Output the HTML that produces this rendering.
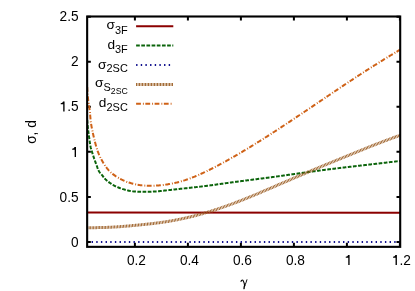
<!DOCTYPE html>
<html><head><meta charset="utf-8"><title>plot</title>
<style>
html,body{margin:0;padding:0;background:#fff;}
body{width:415px;height:291px;overflow:hidden;}
svg{display:block;will-change:transform;}
text{font-family:"Liberation Sans",sans-serif;font-size:13.7px;fill:#000;}
</style></head><body>
<svg width="415" height="291" viewBox="0 0 415 291">
<rect width="415" height="291" fill="#fff"/>
<defs><clipPath id="c"><rect x="87.15" y="16.5" width="313.04999999999995" height="230.35"/></clipPath></defs>
<g fill="none" stroke="#000" stroke-width="2">
<path d="M87.15,241.95h3.7M400.2,241.95h-3.7"/>
<path d="M87.15,196.90h3.7M400.2,196.90h-3.7"/>
<path d="M87.15,151.85h3.7M400.2,151.85h-3.7"/>
<path d="M87.15,106.80h3.7M400.2,106.80h-3.7"/>
<path d="M87.15,61.75h3.7M400.2,61.75h-3.7"/>
<path d="M87.15,16.70h3.7M400.2,16.70h-3.7"/>
<path d="M134.90,246.85v-4.1M134.90,16.5v4.1"/>
<path d="M187.90,246.85v-4.1M187.90,16.5v4.1"/>
<path d="M240.90,246.85v-4.1M240.90,16.5v4.1"/>
<path d="M293.90,246.85v-4.1M293.90,16.5v4.1"/>
<path d="M346.90,246.85v-4.1M346.90,16.5v4.1"/>
<path d="M399.90,246.85v-4.1M399.90,16.5v4.1"/>
</g>
<g fill="none" stroke-width="2" clip-path="url(#c)">
<path d="M87.15,212.45 L400.2,212.8" stroke="#8b0000"/>
<path d="M87.20,120.00 L87.25,120.73 L87.31,121.45 L87.37,122.18 L87.42,122.90 L87.48,123.63 L87.54,124.35 L87.61,125.08 L87.67,125.80 L87.74,126.52 L87.82,127.25 L87.90,127.97 L87.98,128.69 L88.07,129.41 L88.16,130.13 L88.25,130.86 L88.35,131.58 L88.45,132.30 L88.55,133.02 L88.65,133.74 L88.75,134.46 L88.85,135.18 L88.95,135.90 L89.04,136.62 L89.14,137.34 L89.23,138.06 L89.32,138.78 L89.41,139.50 L89.51,140.22 L89.60,140.95 L89.70,141.67 L89.81,142.39 L89.91,143.11 L90.02,143.82 L90.14,144.54 L90.26,145.26 L90.40,145.98 L90.54,146.69 L90.69,147.40 L90.86,148.11 L91.04,148.81 L91.23,149.51 L91.44,150.21 L91.67,150.90 L91.90,151.59 L92.13,152.28 L92.36,152.97 L92.58,153.67 L92.80,154.36 L93.02,155.05 L93.24,155.75 L93.46,156.44 L93.68,157.13 L93.91,157.82 L94.13,158.51 L94.37,159.20 L94.61,159.88 L94.86,160.56 L95.11,161.24 L95.36,161.92 L95.61,162.60 L95.87,163.28 L96.12,163.96 L96.38,164.65 L96.63,165.34 L96.87,166.03 L97.12,166.72 L97.36,167.42 L97.60,168.11 L97.86,168.80 L98.13,169.48 L98.42,170.15 L98.74,170.80 L99.10,171.43 L99.48,172.04 L99.91,172.61 L100.38,173.17 L100.86,173.72 L101.35,174.26 L101.83,174.81 L102.28,175.38 L102.72,175.96 L103.15,176.55 L103.58,177.13 L104.03,177.71 L104.49,178.27 L104.97,178.81 L105.48,179.33 L106.00,179.84 L106.54,180.33 L107.09,180.80 L107.66,181.27 L108.23,181.72 L108.82,182.16 L109.41,182.59 L110.01,183.01 L110.62,183.42 L111.23,183.82 L111.84,184.21 L112.46,184.60 L113.09,184.97 L113.72,185.32 L114.36,185.67 L115.00,186.00 L115.66,186.32 L116.32,186.63 L116.98,186.92 L117.65,187.20 L118.33,187.47 L119.01,187.73 L119.69,187.99 L120.38,188.23 L121.06,188.47 L121.75,188.70 L122.44,188.93 L123.14,189.14 L123.83,189.36 L124.53,189.56 L125.23,189.77 L125.93,189.96 L126.63,190.15 L127.34,190.34 L128.04,190.51 L128.75,190.68 L129.46,190.83 L130.18,190.96 L130.89,191.08 L131.61,191.19 L132.33,191.29 L133.05,191.37 L133.78,191.44 L134.50,191.51 L135.23,191.56 L135.95,191.61 L136.68,191.65 L137.41,191.68 L138.14,191.71 L138.87,191.73 L139.60,191.75 L140.33,191.77 L141.06,191.78 L141.78,191.80 L142.51,191.81 L143.24,191.82 L143.97,191.83 L144.69,191.83 L145.42,191.84 L146.15,191.83 L146.87,191.83 L147.60,191.82 L148.33,191.81 L149.05,191.79 L149.78,191.77 L150.51,191.74 L151.23,191.71 L151.96,191.67 L152.68,191.64 L153.41,191.59 L154.13,191.54 L154.86,191.49 L155.58,191.44 L156.31,191.38 L157.03,191.32 L157.76,191.26 L158.48,191.19 L159.21,191.13 L159.93,191.06 L160.66,190.99 L161.38,190.91 L162.11,190.84 L162.83,190.76 L163.55,190.69 L164.28,190.61 L165.00,190.53 L165.72,190.45 L166.45,190.37 L167.17,190.29 L167.89,190.21 L168.62,190.13 L169.34,190.05 L170.06,189.97 L170.78,189.89 L171.51,189.81 L172.23,189.73 L172.95,189.65 L173.68,189.57 L174.40,189.49 L175.12,189.41 L175.84,189.33 L176.57,189.25 L177.29,189.17 L178.01,189.09 L178.73,189.01 L179.46,188.93 L180.18,188.85 L180.90,188.77 L181.62,188.69 L182.35,188.61 L183.07,188.53 L183.79,188.46 L184.52,188.38 L185.24,188.30 L185.96,188.23 L186.69,188.15 L187.41,188.07 L188.13,187.99 L188.85,187.92 L189.58,187.84 L190.30,187.76 L191.02,187.69 L191.75,187.61 L192.47,187.53 L193.19,187.45 L193.92,187.37 L194.64,187.29 L195.36,187.21 L196.08,187.13 L196.81,187.05 L197.53,186.97 L198.25,186.88 L198.97,186.80 L199.70,186.72 L200.42,186.63 L201.14,186.54 L201.86,186.46 L202.58,186.37 L203.31,186.28 L204.03,186.19 L204.75,186.10 L205.47,186.00 L206.19,185.91 L206.91,185.82 L207.63,185.72 L208.35,185.63 L209.08,185.53 L209.80,185.44 L210.52,185.34 L211.24,185.24 L211.96,185.14 L212.68,185.05 L213.40,184.95 L214.12,184.85 L214.84,184.75 L215.56,184.65 L216.28,184.55 L217.00,184.45 L217.72,184.35 L218.44,184.25 L219.16,184.14 L219.88,184.04 L220.60,183.94 L221.32,183.84 L222.04,183.74 L222.76,183.64 L223.48,183.54 L224.20,183.44 L224.92,183.33 L225.64,183.23 L226.36,183.13 L227.08,183.03 L227.80,182.93 L228.52,182.83 L229.24,182.73 L229.96,182.63 L230.68,182.53 L231.41,182.43 L232.13,182.33 L232.85,182.23 L233.57,182.14 L234.29,182.04 L235.01,181.94 L235.73,181.85 L236.45,181.75 L237.17,181.65 L237.89,181.56 L238.61,181.46 L239.33,181.37 L240.05,181.27 L240.78,181.18 L241.50,181.08 L242.22,180.99 L242.94,180.90 L243.66,180.80 L244.38,180.71 L245.10,180.62 L245.82,180.52 L246.54,180.43 L247.27,180.34 L247.99,180.25 L248.71,180.15 L249.43,180.06 L250.15,179.97 L250.87,179.88 L251.59,179.78 L252.32,179.69 L253.04,179.60 L253.76,179.51 L254.48,179.42 L255.20,179.32 L255.92,179.23 L256.64,179.14 L257.36,179.05 L258.09,178.95 L258.81,178.86 L259.53,178.77 L260.25,178.68 L260.97,178.58 L261.69,178.49 L262.41,178.40 L263.13,178.30 L263.86,178.21 L264.58,178.12 L265.30,178.02 L266.02,177.93 L266.74,177.83 L267.46,177.74 L268.18,177.64 L268.90,177.55 L269.62,177.45 L270.34,177.35 L271.06,177.26 L271.79,177.16 L272.51,177.06 L273.23,176.97 L273.95,176.87 L274.67,176.77 L275.39,176.67 L276.11,176.57 L276.83,176.47 L277.55,176.37 L278.27,176.28 L278.99,176.18 L279.71,176.08 L280.43,175.98 L281.15,175.88 L281.87,175.78 L282.59,175.67 L283.31,175.57 L284.03,175.47 L284.75,175.37 L285.47,175.27 L286.19,175.17 L286.91,175.07 L287.63,174.97 L288.35,174.86 L289.07,174.76 L289.79,174.66 L290.51,174.56 L291.23,174.46 L291.95,174.36 L292.67,174.25 L293.39,174.15 L294.11,174.05 L294.83,173.95 L295.55,173.85 L296.27,173.74 L296.99,173.64 L297.71,173.54 L298.43,173.44 L299.15,173.34 L299.87,173.24 L300.59,173.13 L301.31,173.03 L302.03,172.93 L302.75,172.83 L303.47,172.73 L304.19,172.63 L304.91,172.53 L305.63,172.43 L306.36,172.33 L307.08,172.23 L307.80,172.13 L308.52,172.03 L309.24,171.93 L309.96,171.83 L310.68,171.73 L311.40,171.63 L312.12,171.53 L312.84,171.43 L313.56,171.33 L314.28,171.24 L315.00,171.14 L315.72,171.04 L316.44,170.94 L317.16,170.85 L317.88,170.75 L318.60,170.66 L319.32,170.56 L320.05,170.47 L320.77,170.37 L321.49,170.28 L322.21,170.18 L322.93,170.09 L323.65,170.00 L324.37,169.90 L325.09,169.81 L325.81,169.72 L326.54,169.63 L327.26,169.54 L327.98,169.45 L328.70,169.36 L329.42,169.27 L330.14,169.18 L330.87,169.09 L331.59,169.00 L332.31,168.91 L333.03,168.82 L333.75,168.73 L334.47,168.64 L335.20,168.56 L335.92,168.47 L336.64,168.38 L337.36,168.29 L338.08,168.21 L338.81,168.12 L339.53,168.03 L340.25,167.95 L340.97,167.86 L341.69,167.78 L342.42,167.69 L343.14,167.61 L343.86,167.52 L344.58,167.44 L345.31,167.35 L346.03,167.27 L346.75,167.18 L347.47,167.10 L348.19,167.01 L348.92,166.93 L349.64,166.85 L350.36,166.76 L351.08,166.68 L351.81,166.59 L352.53,166.51 L353.25,166.43 L353.97,166.34 L354.70,166.26 L355.42,166.18 L356.14,166.09 L356.86,166.01 L357.59,165.93 L358.31,165.84 L359.03,165.76 L359.75,165.68 L360.48,165.59 L361.20,165.51 L361.92,165.42 L362.64,165.34 L363.37,165.26 L364.09,165.17 L364.81,165.09 L365.53,165.01 L366.25,164.92 L366.98,164.84 L367.70,164.75 L368.42,164.67 L369.14,164.59 L369.87,164.50 L370.59,164.42 L371.31,164.33 L372.03,164.25 L372.76,164.17 L373.48,164.08 L374.20,164.00 L374.92,163.91 L375.64,163.83 L376.37,163.74 L377.09,163.66 L377.81,163.57 L378.53,163.49 L379.26,163.40 L379.98,163.32 L380.70,163.24 L381.42,163.15 L382.15,163.07 L382.87,162.98 L383.59,162.90 L384.31,162.81 L385.03,162.73 L385.76,162.64 L386.48,162.56 L387.20,162.47 L387.92,162.39 L388.64,162.30 L389.37,162.22 L390.09,162.13 L390.81,162.05 L391.53,161.96 L392.26,161.88 L392.98,161.79 L393.70,161.71 L394.42,161.62 L395.14,161.54 L395.87,161.45 L396.59,161.37 L397.31,161.28 L398.03,161.20 L398.76,161.11 L399.48,161.03 L400.20,160.94" stroke="#0b640b" stroke-dasharray="3.7 1.47"/>
<path d="M91.6,242.05 H400.2" stroke="#10108e" stroke-dasharray="1.4 3.256"/>
<path d="M87.20,227.71 L87.86,227.71 L88.52,227.70 L89.18,227.70 L89.84,227.69 L90.50,227.69 L91.16,227.68 L91.82,227.68 L92.48,227.67 L93.14,227.66 L93.80,227.66 L94.46,227.65 L95.12,227.64 L95.78,227.64 L96.44,227.63 L97.10,227.62 L97.76,227.61 L98.42,227.60 L99.08,227.59 L99.74,227.58 L100.40,227.56 L101.06,227.55 L101.72,227.54 L102.38,227.52 L103.04,227.50 L103.70,227.49 L104.36,227.47 L105.02,227.45 L105.68,227.43 L106.34,227.41 L106.99,227.38 L107.65,227.36 L108.31,227.33 L108.97,227.31 L109.63,227.28 L110.29,227.25 L110.95,227.22 L111.61,227.18 L112.27,227.15 L112.93,227.11 L113.58,227.08 L114.24,227.04 L114.90,227.00 L115.56,226.96 L116.22,226.91 L116.88,226.87 L117.53,226.83 L118.19,226.78 L118.85,226.74 L119.51,226.69 L120.17,226.64 L120.83,226.59 L121.48,226.54 L122.14,226.49 L122.80,226.44 L123.46,226.38 L124.12,226.33 L124.77,226.28 L125.43,226.22 L126.09,226.16 L126.75,226.11 L127.40,226.05 L128.06,225.99 L128.72,225.93 L129.38,225.88 L130.03,225.82 L130.69,225.76 L131.35,225.70 L132.01,225.64 L132.66,225.57 L133.32,225.51 L133.98,225.45 L134.63,225.39 L135.29,225.33 L135.95,225.26 L136.61,225.20 L137.26,225.14 L137.92,225.08 L138.58,225.01 L139.23,224.95 L139.89,224.89 L140.55,224.82 L141.21,224.76 L141.86,224.69 L142.52,224.63 L143.18,224.56 L143.83,224.50 L144.49,224.43 L145.15,224.36 L145.80,224.29 L146.46,224.22 L147.11,224.15 L147.77,224.08 L148.43,224.01 L149.08,223.94 L149.74,223.87 L150.39,223.80 L151.05,223.72 L151.71,223.65 L152.36,223.57 L153.02,223.50 L153.67,223.42 L154.33,223.34 L154.98,223.26 L155.64,223.18 L156.29,223.10 L156.95,223.01 L157.60,222.93 L158.25,222.84 L158.91,222.76 L159.56,222.67 L160.22,222.58 L160.87,222.49 L161.52,222.40 L162.18,222.30 L162.83,222.21 L163.48,222.11 L164.14,222.02 L164.79,221.92 L165.44,221.82 L166.09,221.72 L166.74,221.61 L167.40,221.51 L168.05,221.40 L168.70,221.30 L169.35,221.19 L170.00,221.08 L170.65,220.97 L171.30,220.86 L171.95,220.74 L172.60,220.63 L173.25,220.51 L173.90,220.39 L174.55,220.27 L175.20,220.15 L175.85,220.03 L176.50,219.91 L177.14,219.78 L177.79,219.65 L178.44,219.53 L179.09,219.40 L179.73,219.26 L180.38,219.13 L181.03,219.00 L181.67,218.86 L182.32,218.73 L182.96,218.59 L183.61,218.45 L184.25,218.30 L184.90,218.16 L185.54,218.02 L186.18,217.87 L186.83,217.72 L187.47,217.58 L188.11,217.43 L188.76,217.27 L189.40,217.12 L190.04,216.97 L190.68,216.81 L191.32,216.65 L191.96,216.50 L192.60,216.34 L193.24,216.18 L193.88,216.01 L194.52,215.85 L195.16,215.68 L195.80,215.52 L196.44,215.35 L197.08,215.18 L197.71,215.01 L198.35,214.84 L198.99,214.67 L199.63,214.49 L200.26,214.32 L200.90,214.14 L201.53,213.96 L202.17,213.78 L202.80,213.60 L203.44,213.42 L204.07,213.24 L204.71,213.06 L205.34,212.87 L205.97,212.68 L206.61,212.50 L207.24,212.31 L207.87,212.12 L208.50,211.93 L209.13,211.73 L209.77,211.54 L210.40,211.35 L211.03,211.15 L211.66,210.95 L212.29,210.75 L212.91,210.56 L213.54,210.35 L214.17,210.15 L214.80,209.95 L215.43,209.75 L216.06,209.54 L216.68,209.34 L217.31,209.13 L217.94,208.92 L218.56,208.71 L219.19,208.50 L219.81,208.29 L220.44,208.08 L221.06,207.87 L221.69,207.65 L222.31,207.44 L222.93,207.22 L223.56,207.00 L224.18,206.78 L224.80,206.56 L225.43,206.34 L226.05,206.12 L226.67,205.90 L227.29,205.68 L227.91,205.45 L228.53,205.23 L229.15,205.00 L229.77,204.78 L230.39,204.55 L231.01,204.32 L231.63,204.09 L232.25,203.86 L232.86,203.63 L233.48,203.39 L234.10,203.16 L234.72,202.93 L235.33,202.69 L235.95,202.46 L236.56,202.22 L237.18,201.98 L237.80,201.74 L238.41,201.51 L239.02,201.27 L239.64,201.02 L240.25,200.78 L240.87,200.54 L241.48,200.30 L242.09,200.06 L242.71,199.81 L243.32,199.57 L243.93,199.32 L244.55,199.08 L245.16,198.83 L245.77,198.58 L246.38,198.33 L246.99,198.09 L247.60,197.84 L248.21,197.59 L248.82,197.34 L249.44,197.09 L250.05,196.84 L250.66,196.58 L251.27,196.33 L251.88,196.08 L252.48,195.83 L253.09,195.57 L253.70,195.32 L254.31,195.07 L254.92,194.81 L255.53,194.56 L256.14,194.30 L256.75,194.05 L257.36,193.79 L257.96,193.53 L258.57,193.28 L259.18,193.02 L259.79,192.76 L260.39,192.50 L261.00,192.25 L261.61,191.99 L262.22,191.73 L262.82,191.47 L263.43,191.21 L264.04,190.95 L264.65,190.69 L265.25,190.43 L265.86,190.17 L266.47,189.91 L267.07,189.66 L267.68,189.40 L268.29,189.14 L268.89,188.87 L269.50,188.61 L270.11,188.35 L270.71,188.09 L271.32,187.83 L271.93,187.57 L272.53,187.31 L273.14,187.05 L273.74,186.79 L274.35,186.53 L274.96,186.27 L275.56,186.01 L276.17,185.75 L276.78,185.49 L277.38,185.23 L277.99,184.97 L278.60,184.71 L279.20,184.45 L279.81,184.19 L280.41,183.93 L281.02,183.66 L281.63,183.40 L282.23,183.14 L282.84,182.88 L283.45,182.62 L284.05,182.36 L284.66,182.10 L285.26,181.84 L285.87,181.58 L286.48,181.32 L287.08,181.06 L287.69,180.80 L288.30,180.54 L288.90,180.28 L289.51,180.02 L290.11,179.76 L290.72,179.50 L291.33,179.24 L291.93,178.98 L292.54,178.72 L293.15,178.46 L293.75,178.20 L294.36,177.94 L294.97,177.68 L295.57,177.42 L296.18,177.16 L296.79,176.90 L297.39,176.64 L298.00,176.38 L298.61,176.12 L299.21,175.86 L299.82,175.60 L300.43,175.34 L301.03,175.08 L301.64,174.82 L302.25,174.57 L302.86,174.31 L303.46,174.05 L304.07,173.79 L304.68,173.53 L305.28,173.27 L305.89,173.02 L306.50,172.76 L307.11,172.50 L307.71,172.24 L308.32,171.99 L308.93,171.73 L309.54,171.47 L310.14,171.21 L310.75,170.96 L311.36,170.70 L311.97,170.44 L312.58,170.19 L313.18,169.93 L313.79,169.68 L314.40,169.42 L315.01,169.16 L315.62,168.91 L316.22,168.65 L316.83,168.40 L317.44,168.14 L318.05,167.89 L318.66,167.63 L319.27,167.38 L319.88,167.12 L320.49,166.87 L321.09,166.62 L321.70,166.36 L322.31,166.11 L322.92,165.86 L323.53,165.60 L324.14,165.35 L324.75,165.10 L325.36,164.85 L325.97,164.59 L326.58,164.34 L327.19,164.09 L327.80,163.84 L328.41,163.59 L329.02,163.34 L329.63,163.08 L330.24,162.83 L330.85,162.58 L331.46,162.33 L332.07,162.08 L332.68,161.83 L333.29,161.58 L333.90,161.33 L334.51,161.08 L335.12,160.83 L335.73,160.58 L336.34,160.33 L336.96,160.08 L337.57,159.83 L338.18,159.58 L338.79,159.33 L339.40,159.08 L340.01,158.83 L340.62,158.58 L341.23,158.33 L341.84,158.08 L342.45,157.83 L343.06,157.58 L343.67,157.33 L344.29,157.08 L344.90,156.83 L345.51,156.58 L346.12,156.33 L346.73,156.09 L347.34,155.84 L347.95,155.59 L348.56,155.34 L349.17,155.09 L349.78,154.84 L350.40,154.59 L351.01,154.34 L351.62,154.09 L352.23,153.84 L352.84,153.59 L353.45,153.34 L354.06,153.09 L354.67,152.84 L355.28,152.59 L355.89,152.34 L356.50,152.09 L357.12,151.84 L357.73,151.59 L358.34,151.35 L358.95,151.10 L359.56,150.85 L360.17,150.60 L360.78,150.35 L361.39,150.10 L362.01,149.86 L362.62,149.61 L363.23,149.36 L363.84,149.11 L364.45,148.87 L365.07,148.62 L365.68,148.37 L366.29,148.13 L366.90,147.88 L367.51,147.64 L368.13,147.39 L368.74,147.15 L369.35,146.90 L369.97,146.66 L370.58,146.42 L371.19,146.17 L371.81,145.93 L372.42,145.69 L373.04,145.45 L373.65,145.21 L374.26,144.97 L374.88,144.73 L375.49,144.49 L376.11,144.25 L376.72,144.01 L377.34,143.77 L377.95,143.54 L378.57,143.30 L379.19,143.06 L379.80,142.83 L380.42,142.59 L381.04,142.36 L381.65,142.12 L382.27,141.89 L382.89,141.65 L383.50,141.42 L384.12,141.18 L384.74,140.95 L385.36,140.72 L385.97,140.49 L386.59,140.25 L387.21,140.02 L387.83,139.79 L388.44,139.56 L389.06,139.33 L389.68,139.10 L390.30,138.87 L390.92,138.64 L391.54,138.41 L392.15,138.18 L392.77,137.95 L393.39,137.72 L394.01,137.49 L394.63,137.26 L395.25,137.03 L395.87,136.80 L396.49,136.57 L397.11,136.34 L397.72,136.11 L398.34,135.89 L398.96,135.66 L399.58,135.43 L400.20,135.20" stroke="none" stroke-width="3.0"/><path d="M87.20,227.71 L87.86,227.71 L88.52,227.70 L89.18,227.70 L89.84,227.69 L90.50,227.69 L91.16,227.68 L91.82,227.68 L92.48,227.67 L93.14,227.66 L93.80,227.66 L94.46,227.65 L95.12,227.64 L95.78,227.64 L96.44,227.63 L97.10,227.62 L97.76,227.61 L98.42,227.60 L99.08,227.59 L99.74,227.58 L100.40,227.56 L101.06,227.55 L101.72,227.54 L102.38,227.52 L103.04,227.50 L103.70,227.49 L104.36,227.47 L105.02,227.45 L105.68,227.43 L106.34,227.41 L106.99,227.38 L107.65,227.36 L108.31,227.33 L108.97,227.31 L109.63,227.28 L110.29,227.25 L110.95,227.22 L111.61,227.18 L112.27,227.15 L112.93,227.11 L113.58,227.08 L114.24,227.04 L114.90,227.00 L115.56,226.96 L116.22,226.91 L116.88,226.87 L117.53,226.83 L118.19,226.78 L118.85,226.74 L119.51,226.69 L120.17,226.64 L120.83,226.59 L121.48,226.54 L122.14,226.49 L122.80,226.44 L123.46,226.38 L124.12,226.33 L124.77,226.28 L125.43,226.22 L126.09,226.16 L126.75,226.11 L127.40,226.05 L128.06,225.99 L128.72,225.93 L129.38,225.88 L130.03,225.82 L130.69,225.76 L131.35,225.70 L132.01,225.64 L132.66,225.57 L133.32,225.51 L133.98,225.45 L134.63,225.39 L135.29,225.33 L135.95,225.26 L136.61,225.20 L137.26,225.14 L137.92,225.08 L138.58,225.01 L139.23,224.95 L139.89,224.89 L140.55,224.82 L141.21,224.76 L141.86,224.69 L142.52,224.63 L143.18,224.56 L143.83,224.50 L144.49,224.43 L145.15,224.36 L145.80,224.29 L146.46,224.22 L147.11,224.15 L147.77,224.08 L148.43,224.01 L149.08,223.94 L149.74,223.87 L150.39,223.80 L151.05,223.72 L151.71,223.65 L152.36,223.57 L153.02,223.50 L153.67,223.42 L154.33,223.34 L154.98,223.26 L155.64,223.18 L156.29,223.10 L156.95,223.01 L157.60,222.93 L158.25,222.84 L158.91,222.76 L159.56,222.67 L160.22,222.58 L160.87,222.49 L161.52,222.40 L162.18,222.30 L162.83,222.21 L163.48,222.11 L164.14,222.02 L164.79,221.92 L165.44,221.82 L166.09,221.72 L166.74,221.61 L167.40,221.51 L168.05,221.40 L168.70,221.30 L169.35,221.19 L170.00,221.08 L170.65,220.97 L171.30,220.86 L171.95,220.74 L172.60,220.63 L173.25,220.51 L173.90,220.39 L174.55,220.27 L175.20,220.15 L175.85,220.03 L176.50,219.91 L177.14,219.78 L177.79,219.65 L178.44,219.53 L179.09,219.40 L179.73,219.26 L180.38,219.13 L181.03,219.00 L181.67,218.86 L182.32,218.73 L182.96,218.59 L183.61,218.45 L184.25,218.30 L184.90,218.16 L185.54,218.02 L186.18,217.87 L186.83,217.72 L187.47,217.58 L188.11,217.43 L188.76,217.27 L189.40,217.12 L190.04,216.97 L190.68,216.81 L191.32,216.65 L191.96,216.50 L192.60,216.34 L193.24,216.18 L193.88,216.01 L194.52,215.85 L195.16,215.68 L195.80,215.52 L196.44,215.35 L197.08,215.18 L197.71,215.01 L198.35,214.84 L198.99,214.67 L199.63,214.49 L200.26,214.32 L200.90,214.14 L201.53,213.96 L202.17,213.78 L202.80,213.60 L203.44,213.42 L204.07,213.24 L204.71,213.06 L205.34,212.87 L205.97,212.68 L206.61,212.50 L207.24,212.31 L207.87,212.12 L208.50,211.93 L209.13,211.73 L209.77,211.54 L210.40,211.35 L211.03,211.15 L211.66,210.95 L212.29,210.75 L212.91,210.56 L213.54,210.35 L214.17,210.15 L214.80,209.95 L215.43,209.75 L216.06,209.54 L216.68,209.34 L217.31,209.13 L217.94,208.92 L218.56,208.71 L219.19,208.50 L219.81,208.29 L220.44,208.08 L221.06,207.87 L221.69,207.65 L222.31,207.44 L222.93,207.22 L223.56,207.00 L224.18,206.78 L224.80,206.56 L225.43,206.34 L226.05,206.12 L226.67,205.90 L227.29,205.68 L227.91,205.45 L228.53,205.23 L229.15,205.00 L229.77,204.78 L230.39,204.55 L231.01,204.32 L231.63,204.09 L232.25,203.86 L232.86,203.63 L233.48,203.39 L234.10,203.16 L234.72,202.93 L235.33,202.69 L235.95,202.46 L236.56,202.22 L237.18,201.98 L237.80,201.74 L238.41,201.51 L239.02,201.27 L239.64,201.02 L240.25,200.78 L240.87,200.54 L241.48,200.30 L242.09,200.06 L242.71,199.81 L243.32,199.57 L243.93,199.32 L244.55,199.08 L245.16,198.83 L245.77,198.58 L246.38,198.33 L246.99,198.09 L247.60,197.84 L248.21,197.59 L248.82,197.34 L249.44,197.09 L250.05,196.84 L250.66,196.58 L251.27,196.33 L251.88,196.08 L252.48,195.83 L253.09,195.57 L253.70,195.32 L254.31,195.07 L254.92,194.81 L255.53,194.56 L256.14,194.30 L256.75,194.05 L257.36,193.79 L257.96,193.53 L258.57,193.28 L259.18,193.02 L259.79,192.76 L260.39,192.50 L261.00,192.25 L261.61,191.99 L262.22,191.73 L262.82,191.47 L263.43,191.21 L264.04,190.95 L264.65,190.69 L265.25,190.43 L265.86,190.17 L266.47,189.91 L267.07,189.66 L267.68,189.40 L268.29,189.14 L268.89,188.87 L269.50,188.61 L270.11,188.35 L270.71,188.09 L271.32,187.83 L271.93,187.57 L272.53,187.31 L273.14,187.05 L273.74,186.79 L274.35,186.53 L274.96,186.27 L275.56,186.01 L276.17,185.75 L276.78,185.49 L277.38,185.23 L277.99,184.97 L278.60,184.71 L279.20,184.45 L279.81,184.19 L280.41,183.93 L281.02,183.66 L281.63,183.40 L282.23,183.14 L282.84,182.88 L283.45,182.62 L284.05,182.36 L284.66,182.10 L285.26,181.84 L285.87,181.58 L286.48,181.32 L287.08,181.06 L287.69,180.80 L288.30,180.54 L288.90,180.28 L289.51,180.02 L290.11,179.76 L290.72,179.50 L291.33,179.24 L291.93,178.98 L292.54,178.72 L293.15,178.46 L293.75,178.20 L294.36,177.94 L294.97,177.68 L295.57,177.42 L296.18,177.16 L296.79,176.90 L297.39,176.64 L298.00,176.38 L298.61,176.12 L299.21,175.86 L299.82,175.60 L300.43,175.34 L301.03,175.08 L301.64,174.82 L302.25,174.57 L302.86,174.31 L303.46,174.05 L304.07,173.79 L304.68,173.53 L305.28,173.27 L305.89,173.02 L306.50,172.76 L307.11,172.50 L307.71,172.24 L308.32,171.99 L308.93,171.73 L309.54,171.47 L310.14,171.21 L310.75,170.96 L311.36,170.70 L311.97,170.44 L312.58,170.19 L313.18,169.93 L313.79,169.68 L314.40,169.42 L315.01,169.16 L315.62,168.91 L316.22,168.65 L316.83,168.40 L317.44,168.14 L318.05,167.89 L318.66,167.63 L319.27,167.38 L319.88,167.12 L320.49,166.87 L321.09,166.62 L321.70,166.36 L322.31,166.11 L322.92,165.86 L323.53,165.60 L324.14,165.35 L324.75,165.10 L325.36,164.85 L325.97,164.59 L326.58,164.34 L327.19,164.09 L327.80,163.84 L328.41,163.59 L329.02,163.34 L329.63,163.08 L330.24,162.83 L330.85,162.58 L331.46,162.33 L332.07,162.08 L332.68,161.83 L333.29,161.58 L333.90,161.33 L334.51,161.08 L335.12,160.83 L335.73,160.58 L336.34,160.33 L336.96,160.08 L337.57,159.83 L338.18,159.58 L338.79,159.33 L339.40,159.08 L340.01,158.83 L340.62,158.58 L341.23,158.33 L341.84,158.08 L342.45,157.83 L343.06,157.58 L343.67,157.33 L344.29,157.08 L344.90,156.83 L345.51,156.58 L346.12,156.33 L346.73,156.09 L347.34,155.84 L347.95,155.59 L348.56,155.34 L349.17,155.09 L349.78,154.84 L350.40,154.59 L351.01,154.34 L351.62,154.09 L352.23,153.84 L352.84,153.59 L353.45,153.34 L354.06,153.09 L354.67,152.84 L355.28,152.59 L355.89,152.34 L356.50,152.09 L357.12,151.84 L357.73,151.59 L358.34,151.35 L358.95,151.10 L359.56,150.85 L360.17,150.60 L360.78,150.35 L361.39,150.10 L362.01,149.86 L362.62,149.61 L363.23,149.36 L363.84,149.11 L364.45,148.87 L365.07,148.62 L365.68,148.37 L366.29,148.13 L366.90,147.88 L367.51,147.64 L368.13,147.39 L368.74,147.15 L369.35,146.90 L369.97,146.66 L370.58,146.42 L371.19,146.17 L371.81,145.93 L372.42,145.69 L373.04,145.45 L373.65,145.21 L374.26,144.97 L374.88,144.73 L375.49,144.49 L376.11,144.25 L376.72,144.01 L377.34,143.77 L377.95,143.54 L378.57,143.30 L379.19,143.06 L379.80,142.83 L380.42,142.59 L381.04,142.36 L381.65,142.12 L382.27,141.89 L382.89,141.65 L383.50,141.42 L384.12,141.18 L384.74,140.95 L385.36,140.72 L385.97,140.49 L386.59,140.25 L387.21,140.02 L387.83,139.79 L388.44,139.56 L389.06,139.33 L389.68,139.10 L390.30,138.87 L390.92,138.64 L391.54,138.41 L392.15,138.18 L392.77,137.95 L393.39,137.72 L394.01,137.49 L394.63,137.26 L395.25,137.03 L395.87,136.80 L396.49,136.57 L397.11,136.34 L397.72,136.11 L398.34,135.89 L398.96,135.66 L399.58,135.43 L400.20,135.20" stroke="#9a5c22" stroke-width="3.0" stroke-dasharray="0.9 0.6"/>
<path d="M87.20,87.00 L87.24,87.84 L87.28,88.68 L87.32,89.52 L87.37,90.36 L87.42,91.21 L87.47,92.05 L87.52,92.89 L87.58,93.73 L87.64,94.57 L87.71,95.41 L87.79,96.24 L87.87,97.08 L87.96,97.92 L88.05,98.76 L88.15,99.59 L88.25,100.43 L88.36,101.27 L88.47,102.10 L88.59,102.93 L88.71,103.77 L88.84,104.60 L88.97,105.43 L89.10,106.27 L89.23,107.10 L89.36,107.93 L89.48,108.76 L89.60,109.60 L89.71,110.43 L89.82,111.27 L89.91,112.10 L90.00,112.94 L90.07,113.78 L90.14,114.62 L90.21,115.46 L90.28,116.30 L90.34,117.14 L90.41,117.98 L90.48,118.82 L90.56,119.66 L90.65,120.49 L90.75,121.33 L90.86,122.16 L90.98,123.00 L91.10,123.83 L91.23,124.66 L91.37,125.49 L91.52,126.32 L91.67,127.15 L91.83,127.98 L91.99,128.81 L92.15,129.63 L92.32,130.46 L92.50,131.29 L92.67,132.11 L92.85,132.93 L93.03,133.76 L93.21,134.58 L93.40,135.40 L93.58,136.22 L93.77,137.04 L93.96,137.86 L94.16,138.68 L94.36,139.50 L94.56,140.32 L94.76,141.13 L94.97,141.95 L95.18,142.76 L95.40,143.58 L95.62,144.39 L95.85,145.21 L96.08,146.02 L96.31,146.83 L96.55,147.64 L96.80,148.44 L97.05,149.25 L97.31,150.05 L97.58,150.85 L97.86,151.64 L98.15,152.44 L98.45,153.22 L98.76,154.00 L99.09,154.78 L99.42,155.55 L99.77,156.32 L100.13,157.08 L100.51,157.83 L100.89,158.58 L101.28,159.32 L101.69,160.06 L102.10,160.80 L102.52,161.53 L102.95,162.26 L103.39,162.98 L103.84,163.70 L104.29,164.42 L104.75,165.13 L105.23,165.83 L105.71,166.52 L106.20,167.20 L106.71,167.88 L107.23,168.54 L107.77,169.19 L108.32,169.83 L108.88,170.45 L109.46,171.06 L110.06,171.65 L110.67,172.23 L111.30,172.79 L111.94,173.34 L112.59,173.87 L113.26,174.39 L113.94,174.90 L114.62,175.39 L115.32,175.88 L116.02,176.35 L116.73,176.80 L117.44,177.25 L118.17,177.69 L118.89,178.11 L119.63,178.52 L120.37,178.92 L121.12,179.31 L121.87,179.69 L122.63,180.05 L123.39,180.40 L124.16,180.75 L124.94,181.07 L125.72,181.39 L126.51,181.70 L127.30,181.99 L128.09,182.27 L128.89,182.54 L129.69,182.80 L130.50,183.05 L131.31,183.29 L132.12,183.51 L132.94,183.73 L133.76,183.93 L134.58,184.13 L135.40,184.31 L136.23,184.48 L137.06,184.64 L137.89,184.79 L138.72,184.93 L139.56,185.06 L140.40,185.17 L141.23,185.28 L142.07,185.38 L142.91,185.47 L143.75,185.54 L144.59,185.61 L145.44,185.67 L146.28,185.71 L147.12,185.75 L147.96,185.78 L148.81,185.80 L149.65,185.81 L150.49,185.81 L151.33,185.80 L152.18,185.79 L153.02,185.76 L153.86,185.73 L154.70,185.69 L155.54,185.65 L156.39,185.60 L157.23,185.54 L158.07,185.47 L158.91,185.40 L159.75,185.32 L160.59,185.24 L161.43,185.15 L162.27,185.06 L163.10,184.96 L163.94,184.86 L164.78,184.75 L165.61,184.63 L166.45,184.51 L167.28,184.39 L168.12,184.25 L168.95,184.11 L169.78,183.97 L170.61,183.82 L171.44,183.67 L172.27,183.50 L173.09,183.34 L173.92,183.16 L174.74,182.98 L175.56,182.80 L176.39,182.60 L177.20,182.41 L178.02,182.20 L178.84,181.99 L179.65,181.77 L180.46,181.55 L181.27,181.32 L182.08,181.09 L182.89,180.84 L183.69,180.60 L184.50,180.34 L185.30,180.08 L186.10,179.82 L186.89,179.54 L187.69,179.27 L188.48,178.99 L189.27,178.70 L190.06,178.41 L190.85,178.11 L191.64,177.81 L192.43,177.50 L193.21,177.19 L193.99,176.88 L194.77,176.56 L195.55,176.23 L196.33,175.91 L197.11,175.58 L197.88,175.24 L198.66,174.91 L199.43,174.56 L200.20,174.22 L200.97,173.87 L201.74,173.52 L202.50,173.17 L203.27,172.82 L204.03,172.46 L204.80,172.10 L205.56,171.73 L206.32,171.37 L207.08,171.00 L207.84,170.63 L208.59,170.26 L209.35,169.89 L210.10,169.52 L210.86,169.14 L211.61,168.76 L212.36,168.38 L213.11,168.00 L213.86,167.62 L214.61,167.23 L215.36,166.84 L216.11,166.45 L216.85,166.06 L217.60,165.67 L218.34,165.28 L219.09,164.88 L219.83,164.48 L220.57,164.08 L221.31,163.68 L222.05,163.28 L222.79,162.88 L223.53,162.48 L224.27,162.07 L225.00,161.66 L225.74,161.26 L226.48,160.85 L227.21,160.44 L227.95,160.03 L228.68,159.61 L229.41,159.20 L230.15,158.78 L230.88,158.37 L231.61,157.95 L232.34,157.53 L233.07,157.12 L233.80,156.70 L234.53,156.28 L235.26,155.85 L235.99,155.43 L236.72,155.01 L237.44,154.59 L238.17,154.16 L238.90,153.73 L239.62,153.31 L240.35,152.88 L241.07,152.45 L241.80,152.02 L242.52,151.59 L243.25,151.16 L243.97,150.73 L244.69,150.30 L245.41,149.86 L246.14,149.43 L246.86,149.00 L247.58,148.56 L248.30,148.12 L249.02,147.69 L249.74,147.25 L250.46,146.81 L251.18,146.37 L251.89,145.93 L252.61,145.49 L253.33,145.05 L254.05,144.61 L254.76,144.16 L255.48,143.72 L256.20,143.28 L256.91,142.83 L257.63,142.39 L258.34,141.94 L259.05,141.49 L259.77,141.05 L260.48,140.60 L261.19,140.15 L261.91,139.70 L262.62,139.25 L263.33,138.80 L264.04,138.35 L264.75,137.90 L265.47,137.45 L266.18,136.99 L266.89,136.54 L267.60,136.09 L268.31,135.63 L269.02,135.18 L269.72,134.72 L270.43,134.27 L271.14,133.81 L271.85,133.36 L272.56,132.90 L273.27,132.44 L273.97,131.98 L274.68,131.52 L275.39,131.07 L276.09,130.61 L276.80,130.15 L277.50,129.69 L278.21,129.23 L278.91,128.77 L279.62,128.30 L280.32,127.84 L281.03,127.38 L281.73,126.92 L282.44,126.46 L283.14,125.99 L283.84,125.53 L284.55,125.07 L285.25,124.60 L285.95,124.14 L286.66,123.67 L287.36,123.21 L288.06,122.74 L288.76,122.28 L289.46,121.81 L290.17,121.35 L290.87,120.88 L291.57,120.41 L292.27,119.95 L292.97,119.48 L293.67,119.01 L294.37,118.55 L295.07,118.08 L295.77,117.61 L296.47,117.14 L297.17,116.67 L297.87,116.21 L298.57,115.74 L299.27,115.27 L299.97,114.80 L300.67,114.33 L301.37,113.86 L302.07,113.39 L302.77,112.92 L303.47,112.45 L304.16,111.98 L304.86,111.51 L305.56,111.04 L306.26,110.57 L306.96,110.10 L307.66,109.63 L308.36,109.16 L309.05,108.69 L309.75,108.22 L310.45,107.75 L311.15,107.27 L311.85,106.80 L312.54,106.33 L313.24,105.86 L313.94,105.39 L314.64,104.92 L315.33,104.45 L316.03,103.98 L316.73,103.50 L317.43,103.03 L318.13,102.56 L318.82,102.09 L319.52,101.62 L320.22,101.15 L320.92,100.68 L321.62,100.20 L322.31,99.73 L323.01,99.26 L323.71,98.79 L324.41,98.32 L325.10,97.85 L325.80,97.38 L326.50,96.91 L327.20,96.43 L327.90,95.96 L328.60,95.49 L329.29,95.02 L329.99,94.55 L330.69,94.08 L331.39,93.61 L332.09,93.14 L332.79,92.67 L333.49,92.20 L334.19,91.73 L334.88,91.26 L335.58,90.79 L336.28,90.32 L336.98,89.85 L337.68,89.38 L338.38,88.92 L339.08,88.45 L339.78,87.98 L340.48,87.51 L341.18,87.04 L341.88,86.57 L342.58,86.11 L343.28,85.64 L343.98,85.17 L344.69,84.71 L345.39,84.24 L346.09,83.77 L346.79,83.31 L347.49,82.84 L348.19,82.38 L348.90,81.91 L349.60,81.45 L350.30,80.98 L351.00,80.52 L351.71,80.05 L352.41,79.59 L353.11,79.13 L353.82,78.66 L354.52,78.20 L355.23,77.74 L355.93,77.28 L356.64,76.82 L357.34,76.36 L358.05,75.90 L358.75,75.44 L359.46,74.98 L360.16,74.52 L360.87,74.06 L361.58,73.60 L362.28,73.14 L362.99,72.69 L363.70,72.23 L364.40,71.77 L365.11,71.32 L365.82,70.86 L366.53,70.41 L367.24,69.95 L367.95,69.50 L368.66,69.04 L369.37,68.59 L370.08,68.14 L370.79,67.69 L371.50,67.23 L372.21,66.78 L372.92,66.33 L373.63,65.88 L374.35,65.43 L375.06,64.99 L375.77,64.54 L376.49,64.09 L377.20,63.64 L377.91,63.20 L378.63,62.75 L379.34,62.31 L380.06,61.86 L380.78,61.42 L381.49,60.98 L382.21,60.53 L382.92,60.09 L383.64,59.65 L384.36,59.21 L385.08,58.77 L385.80,58.33 L386.51,57.89 L387.23,57.45 L387.95,57.01 L388.67,56.58 L389.39,56.14 L390.11,55.70 L390.83,55.26 L391.55,54.83 L392.27,54.39 L392.99,53.95 L393.71,53.52 L394.43,53.08 L395.15,52.65 L395.87,52.21 L396.59,51.78 L397.32,51.34 L398.04,50.91 L398.76,50.47 L399.48,50.03 L400.20,49.60" stroke="#cf6217" stroke-dasharray="4.8 2.0 0.9 1.55"/>
</g>
<g fill="none" stroke-width="2">
<path d="M136.1,26.2 H173.3" stroke="#8b0000"/>
<path d="M136.1,45.5 H173.3" stroke="#0b640b" stroke-dasharray="3.7 1.47"/>
<path d="M136.1,64.9 H173.3" stroke="#10108e" stroke-dasharray="1.4 3.256"/>
<path d="M136.1,84.5 H173.3" stroke="none" stroke-width="3.0"/><path d="M136.1,84.5 H173.3" stroke="#9a5c22" stroke-width="3.0" stroke-dasharray="0.9 0.6"/>
<path d="M136.1,103.7 H172.6" stroke="#cf6217" stroke-dasharray="4.8 2.0 0.9 1.55"/>
</g>
<rect x="87.15" y="16.5" width="313.05" height="230.35" fill="none" stroke="#000" stroke-width="2.1"/>
<g><text transform="translate(78.6,247.2) scale(1,1.045)" text-anchor="end">0</text><text transform="translate(78.6,202.1) scale(1,1.045)" text-anchor="end">0.5</text><path fill="#000" d="M76.00,157.00 h-1.35 v-7.25 h-2.5 v-0.95 c1.2,-0.1 2.0,-0.8 2.3,-1.8 h1.55 z"/><text transform="translate(78.6,111.4) scale(1,1.045)" text-anchor="end">.5</text><path fill="#000" d="M64.57,111.40 h-1.35 v-7.25 h-2.5 v-0.95 c1.2,-0.1 2.0,-0.8 2.3,-1.8 h1.55 z"/><text transform="translate(78.6,66.2) scale(1,1.045)" text-anchor="end">2</text><text transform="translate(78.6,21.1) scale(1,1.045)" text-anchor="end">2.5</text><text transform="translate(136.40,265) scale(1,1.045)" text-anchor="middle">0.2</text><text transform="translate(189.40,265) scale(1,1.045)" text-anchor="middle">0.4</text><text transform="translate(242.40,265) scale(1,1.045)" text-anchor="middle">0.6</text><text transform="translate(295.40,265) scale(1,1.045)" text-anchor="middle">0.8</text><path fill="#000" d="M349.61,265.00 h-1.35 v-7.25 h-2.5 v-0.95 c1.2,-0.1 2.0,-0.8 2.3,-1.8 h1.55 z"/><path fill="#000" d="M396.90,265.00 h-1.35 v-7.25 h-2.5 v-0.95 c1.2,-0.1 2.0,-0.8 2.3,-1.8 h1.55 z"/><text transform="translate(399.50,265) scale(1,1.045)" text-anchor="start">.2</text><text transform="translate(127.80,33.65) scale(1,1.08)" text-anchor="end" style="font-size:10.96px">3F</text><text transform="translate(115.01,29.35) scale(1,0.985)" text-anchor="end" style="font-size:13.70px">σ</text><text transform="translate(127.80,53.20) scale(1,1.08)" text-anchor="end" style="font-size:10.96px">3F</text><text transform="translate(115.01,49.10) scale(1,0.985)" text-anchor="end" style="font-size:13.70px">d</text><text transform="translate(127.80,72.10) scale(1,1.08)" text-anchor="end" style="font-size:10.96px">2SC</text><text transform="translate(106.48,68.60) scale(1,0.985)" text-anchor="end" style="font-size:13.70px">σ</text><text transform="translate(127.80,94.40) scale(1,1.08)" text-anchor="end" style="font-size:8.77px">2SC</text><text transform="translate(110.75,91.10) scale(1,1.08)" text-anchor="end" style="font-size:10.96px">S</text><text transform="translate(103.44,87.35) scale(1,0.985)" text-anchor="end" style="font-size:13.70px">σ</text><text transform="translate(127.80,111.10) scale(1,1.08)" text-anchor="end" style="font-size:10.96px">2SC</text><text transform="translate(106.48,106.90) scale(1,0.985)" text-anchor="end" style="font-size:13.70px">d</text>
<g fill="none" stroke="#000" stroke-linecap="round" stroke-linejoin="round" transform="translate(0.75,0.35)">
<path d="M240.3,281.0 C240.6,279.8 241.7,279.3 242.3,280.1 C243.1,281.4 243.7,283.4 243.9,285.4" stroke-width="1.1"/>
<path d="M246.2,279.4 C245.7,281.4 244.8,283.6 243.9,285.4" stroke-width="0.95"/>
<path d="M243.9,285.0 C243.5,286.2 243.2,287.3 243.3,288.2" stroke-width="1.4"/>
</g>
<text transform="translate(35.8,132.0) rotate(-90) scale(1,1.1)" text-anchor="middle">σ, d</text>
</g>
</svg>
</body></html>
